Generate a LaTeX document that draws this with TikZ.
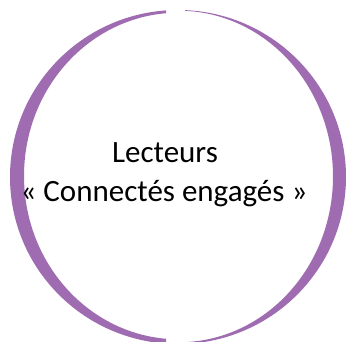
\documentclass[tikz,border=0pt]{standalone}
\usepackage{fontspec}
\setmainfont{Carlito}
\usepackage{tikz}
\usetikzlibrary{positioning}
\definecolor{ringpurple}{HTML}{9F6BB1}

\begin{document}
\begin{tikzpicture}[
  x=1pt, y=1pt,
  ring/.style={fill=ringpurple, even odd rule},
  caption/.style={font=\fontsize{31}{37}\selectfont, text=black, inner sep=0pt, anchor=base},
]
\useasboundingbox[fill=white] (0,0) rectangle (349,342);
% left crescent
\begin{scope}
  \clip (0,0) rectangle (166,342);
  \fill[ring] (178,165) ellipse [x radius=168, y radius=167]
              (178.5,166) ellipse [x radius=154.5, y radius=163.3];
\end{scope}
% right crescent
\begin{scope}
  \clip (185,0) rectangle (349,342);
  \fill[ring] (178,165) ellipse [x radius=168, y radius=167]
              (178.5,165.5) ellipse [x radius=154.5, y radius=165.8];
\end{scope}
\node[caption] (lect) at (165,179) {Lecteurs};
\node[caption] (conn) at (164,140) {« Connectés engagés »};
\end{tikzpicture}
\end{document}
